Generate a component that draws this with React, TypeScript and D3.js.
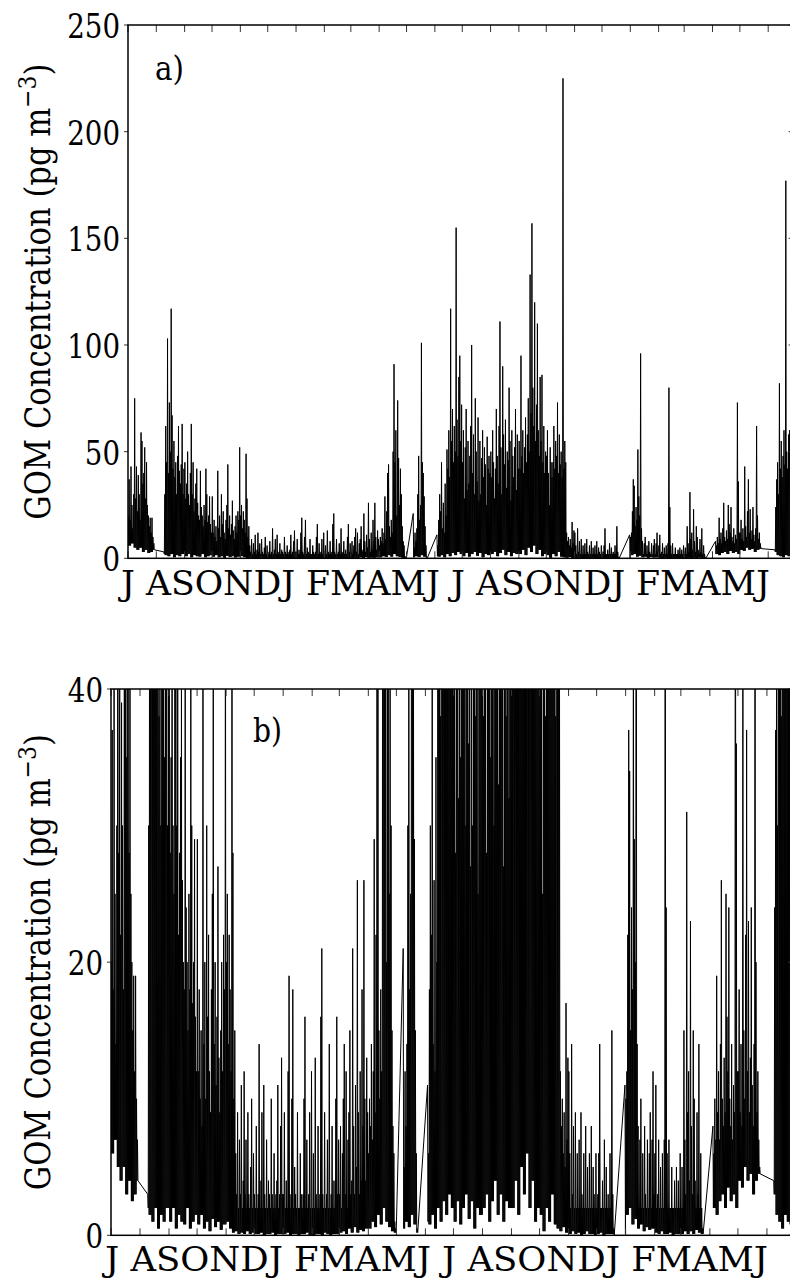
import React from 'react';
import * as d3 from 'd3';

// ---- Data: daily maximum GOM concentration (pg m^-3), one array per month (null = no data) ----
const jul11 = [20,37,18,43,25,14,30,75,28,43,22,39,30,18,59,55,35,40,52,28,45,25,20,15,19,12,19,10,7,null,null];
const aug11 = [null,null,null,null,null,null,null,null,3,30,62,45,103,40,73,50,117,67,42,55,38,45,30,48,62,41,35,44,63,30,42];
const sep11 = [45,28,35,50,30,25,40,63,30,45,22,28,35,42,26,20,18,41,24,20,15,25,18,42,30,17,20,29,16,12];
const oct11 = [29,12,18,10,15,8,41,14,20,10,30,16,22,12,9,18,25,44,14,20,11,16,27,13,9,15,20,12,22,18,52];
const nov11 = [20,25,14,22,18,12,49,28,10,15,6,3,9,2,7,3,11,2,4,12,3,7,2,9,3,2,5,10,2,6];
const dec11 = [3,2,8,2,3,14,2,4,9,2,11,3,2,7,2,4,3,2,10,3,2,6,2,3,4,11,2,3,8,13,3];
const jan12 = [3,9,2,4,2,12,19,3,2,10,18,2,5,3,2,9,2,2,6,3,2,3,10,16,2,7,2,3,9,2,12];
const feb12 = [2,6,2,13,3,2,8,2,3,16,21,3,2,9,2,3,7,2,14,2,3,8,2,4,2,10,16,3,7];
const mar12 = [3,8,2,6,10,14,3,12,2,7,9,15,3,4,21,8,3,11,5,26,9,3,12,4,18,8,26,10,4,13,9];
const apr12 = [6,10,8,14,7,12,29,9,22,40,44,15,10,18,12,50,91,45,60,20,74,47,25,42,30,15,8,6,1,0.5];
const may12 = [null,null,null,null,null,null,null,21,5,12,8,14,30,48,18,25,101,45,40,29,15,6,0.5,null,null,null,null,null,null,null,null];
const jun12 = [null,null,11,6,18,30,22,45,14,26,12,35,20,51,42,60,38,117,55,70,45,62,50,155,65,48,85,95,55,72];
const jul12 = [45,60,28,52,70,32,55,35,48,62,100,40,58,30,75,50,36,66,27,55,30,47,60,38,52,44,25,57,42,48,40];
const aug12 = [50,38,60,45,28,42,70,48,35,62,111,52,30,90,58,44,65,33,50,46,80,55,27,60,48,38,52,70,32,58,42];
const sep12 = [55,42,95,48,60,40,52,66,45,58,75,50,133,68,157,80,62,120,55,72,110,60,48,85,55,86,45,62,40,50];
const oct12 = [48,60,40,25,52,45,38,45,62,42,55,48,73,40,58,44,50,38,225,42,55,45,12,8,10,6,9,5,17,7,13];
const nov12 = [12,6,2,14,3,8,2,9,2,6,2,7,2,9,3,2,6,2,8,2,5,2,6,2,8,2,5,3,2,6];
const dec12 = [2,3,6,14,2,2,4,2,7,2,5,2,3,2,6,2,15,3,0.5,null,null,null,null,null,null,null,null,null,null,null,11];
const jan13 = [10,12,22,37,34,15,24,18,51,29,20,96,14,8,2,7,10,2,6,2,8,3,2,7,2,6,9,2,7,12,3];
const feb13 = [6,11,2,3,7,2,5,2,6,2,7,80,24,6,2,7,2,2,5,2,2,4,2,5,2,4,2,6];
const mar13 = [2,5,2,15,7,3,31,9,12,4,23,8,3,15,10,4,2,9,3,14,2,6,2,0.5,null,null,null,null,null,null,null];
const apr13 = [null,null,null,8,6,10,7,19,9,12,7,14,26,10,8,13,9,25,16,12,24,10,8,14,7,11,9,73,36,12];
const may13 = [12,18,9,14,8,43,15,10,22,37,12,23,9,13,24,11,8,14,62,20,9,12,7,5,null,null,null,null,null,null,null];
const jun13 = [null,null,null,null,null,null,null,4,24,37,45,30,82,42,55,38,48,60,44,177,50,42,58,60,45,40,50,42,55,48];

const dailyMax: (number | null)[][] = [
  jul11, aug11, sep11, oct11, nov11, dec11, jan12, feb12, mar12, apr12, may12, jun12,
  jul12, aug12, sep12, oct12, nov12, dec12, jan13, feb13, mar13, apr13, may13, jun13,
];

// minimum levels per 3-day block of each month
const lowBlocks: number[][] = [
  [6,7,5,4,5,3,4,2.5,3,4],
  [3,3,2,1.5,1,2,0.5,1.5,1,2],
  [1,2,0.5,1.5,1,0.8,2,0.5,1,1.5],
  [0.8,1.5,0.5,1,0.3,1.2,0.6,1,0.4,0.8],
  [1,0.5,0.2,0.3,0.1,0.2,0.1,0.3,0.1,0.2],
  [0.1,0.1,0.2,0,0.1,0.1,0.2,0,0.1,0.1],
  [0.1,0.2,0,0.1,0.1,0,0.1,0.1,0.2,0],
  [0,0.1,0.1,0,0.2,0.1,0,0.1,0.1,0.1],
  [0.2,0.3,0.1,0.5,0.2,0.6,0.2,0.4,0.3,0.5],
  [0.5,1,0.6,1.5,0.8,2,1,0.6,0.3,0.2],
  [0.3,0.3,0.5,1,0.6,1.5,0.8,0.2,0.2,0.2],
  [1,0.8,1.5,0.5,2,1,2.5,1.5,3,2],
  [1,2.5,0.8,2,3,1.2,2.5,0.5,2,1.5],
  [2,3,1,2.5,4,1.5,3,1,2.5,2],
  [2,4,1.5,5,3,6,2,4,1,2],
  [1.5,0.3,2,1,3,0.8,0.5,0.3,0.6,0.2],
  [0.1,0.3,0.1,0.2,0,0.1,0.3,0.1,0.1,0],
  [0.1,0.2,0,0.1,0.1,0.1,0,0.1,0.1,0.1],
  [1.5,2,0.8,1.2,0.5,0.8,0.3,0.6,0.4,0.5],
  [0.2,0.1,0.3,0.1,0.1,0.2,0,0.1,0.1,0.1],
  [0.1,0.3,0.1,0.3,0.1,0.4,0.2,0.1,0.1,0.1],
  [2,2,1.5,2.5,3,2,3.5,2.5,3,2],
  [4,3.5,5,4,4.5,3,4,4.5,4,4],
  [3,3,3,1.5,1,0.5,1.5,1,0.8,1.2],
];

const ticksA = [0, 50, 100, 150, 200, 250];
const ticksB = [0, 20, 40];
const monthLetters = 'J ASONDJ FMAMJ J ASONDJ FMAMJ';
const yTitle = 'GOM Concentration (pg m';

const startDate = new Date(2011, 6, 1);
const endDate = new Date(2013, 6, 1);

type Pt = { t: Date; v: number };
const series: Pt[] = [];
dailyMax.forEach((arr, mi) => {
  const m0 = d3.timeMonth.offset(startDate, mi);
  arr.forEach((v, di) => {
    if (v === null) return;
    const lo = lowBlocks[mi][Math.min(9, Math.floor(di / 3))];
    const day = d3.timeDay.offset(m0, di);
    series.push({ t: d3.timeHour.offset(day, 7), v });
    series.push({ t: d3.timeHour.offset(day, 19), v: lo });
  });
});

const FONT = "'DejaVu Serif Condensed', 'DejaVu Serif'";
const DIGIT_W = 17.6;

type PanelProps = {
  id: string; x0: number; x1: number; y0: number; y1: number; yMax: number; yTicks: number[];
  tag: string; tagX: number; tagY: number; lblStart: number; lblEnd: number; lblY: number; titleLen: number;
};

function Panel(p: PanelProps) {
  const x = d3.scaleTime().domain([startDate, endDate]).range([p.x0, p.x1]);
  const y = d3.scaleLinear().domain([0, p.yMax]).range([p.y1, p.y0]);
  const line = d3.line<Pt>().x(d => x(d.t)).y(d => y(d.v));
  const months = d3.timeMonth.range(startDate, endDate);
  const cy = (p.y0 + p.y1) / 2;
  return (
    <g>
      <defs>
        <clipPath id={`clip-${p.id}`}>
          <rect x={p.x0} y={p.y0} width={p.x1 - p.x0} height={p.y1 - p.y0} />
        </clipPath>
      </defs>
      <path d={line(series) || ''} fill="none" stroke="#000" strokeWidth={1} clipPath={`url(#clip-${p.id})`} />
      {months.map((m, i) => (
        <g key={i}>
          <line x1={x(m)} x2={x(m)} y1={p.y0} y2={p.y0 + 7} stroke="#333" strokeWidth={1} />
          <line x1={x(m)} x2={x(m)} y1={p.y1} y2={p.y1 - 7} stroke="#333" strokeWidth={1} />
        </g>
      ))}
      {p.yTicks.map(t => (
        <g key={t}>
          <line x1={p.x0 - 4} x2={p.x0} y1={y(t)} y2={y(t)} stroke="#333" strokeWidth={1} />
          <line x1={p.x1 - 7} x2={p.x1} y1={y(t)} y2={y(t)} stroke="#333" strokeWidth={1} />
          <text x={p.x0 - 8 - String(t).length * DIGIT_W} y={y(t) + 13} fontSize={34} fontFamily={FONT}
            textLength={String(t).length * DIGIT_W} lengthAdjust="spacingAndGlyphs">{t}</text>
        </g>
      ))}
      <rect x={p.x0} y={p.y0} width={p.x1 - p.x0} height={p.y1 - p.y0} fill="none" stroke="#000" strokeWidth={1.5} />
      <text x={p.tagX} y={p.tagY} fontSize={34} fontFamily={FONT} textLength={29} lengthAdjust="spacingAndGlyphs">{p.tag}</text>
      <text x={p.lblStart} y={p.lblY} fontSize={34} textLength={p.lblEnd - p.lblStart}
        lengthAdjust="spacingAndGlyphs" fontFamily={FONT} style={{ whiteSpace: 'pre' }}>{monthLetters}</text>
      <text transform={`translate(50,${cy}) rotate(-90) translate(${-p.titleLen / 2},0)`}
        fontSize={35} fontFamily={FONT} textLength={p.titleLen} lengthAdjust="spacingAndGlyphs">
        {yTitle}<tspan dy={-14} fontSize={25}>−3</tspan><tspan dy={14}>)</tspan>
      </text>
    </g>
  );
}

export default function App() {
  return (
    <svg width={790} height={1281} style={{ position: 'absolute', left: 0, top: 0, background: '#fff' }}>
      <rect width={790} height={1281} fill="#fff" />
      <Panel id="a" x0={128} x1={795.6} y0={25} y1={558.3} yMax={250} yTicks={ticksA}
        tag="a)" tagX={155} tagY={80} lblStart={121} lblEnd={770} lblY={595} titleLen={456} />
      <Panel id="b" x0={111} x1={795} y0={689} y1={1235.3} yMax={40} yTicks={ticksB}
        tag="b)" tagX={253} tagY={742} lblStart={105} lblEnd={768} lblY={1271} titleLen={456} />
    </svg>
  );
}
